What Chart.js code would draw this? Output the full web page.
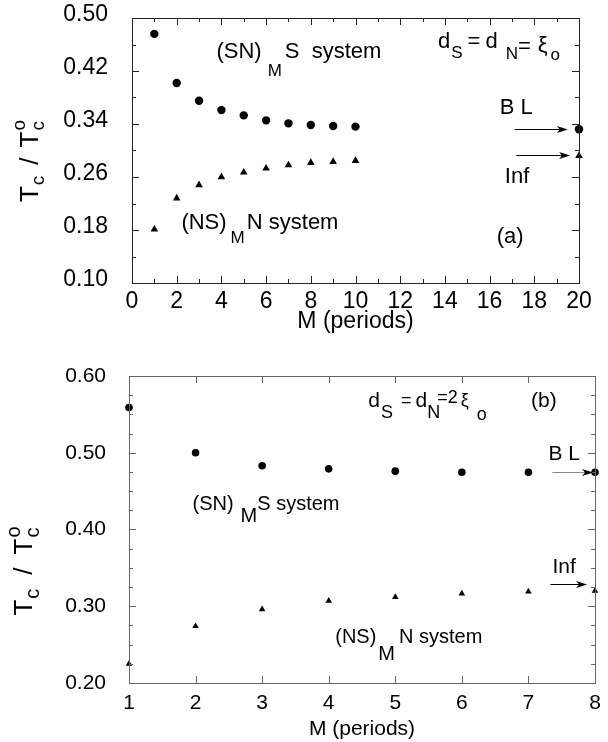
<!DOCTYPE html>
<html lang="en">
<head>
<meta charset="UTF-8">
<title>Tc / Tc0 against M</title>
<style>
    body { margin: 0; background: #fff; }
    canvas { position: absolute; left: 0; }
    #chartA { top: 0; }
    #chartB { top: 345px; }
</style>
</head>
<body>
<canvas id="chartA" width="608" height="340"></canvas>
<canvas id="chartB" width="608" height="397"></canvas>
<script src="https://cdn.jsdelivr.net/npm/chart.js@4.4.1/dist/chart.umd.min.js"></script>
<script>
// panel (a): dS = dN = xi0
const periodsA = [1, 2, 3, 4, 5, 6, 7, 8, 9, 10, 20];
const snsA = [0.476, 0.402, 0.375, 0.361, 0.353, 0.3455, 0.341, 0.3386, 0.337, 0.336, 0.332];   // (SN)M S
const nsnA = [0.181, 0.228, 0.248, 0.260, 0.267, 0.273, 0.278, 0.2815, 0.283, 0.2846, 0.292]; // (NS)M N
const xTicksA = [0, 2, 4, 6, 8, 10, 12, 14, 16, 18, 20];
const yTicksA = [0.10, 0.18, 0.26, 0.34, 0.42, 0.50];

// panel (b): dS = dN = 2 xi0
const periodsB = [1, 2, 3, 4, 5, 6, 7, 8];
const snsB = [0.559, 0.500, 0.483, 0.479, 0.476, 0.4745, 0.4745, 0.4745];
const nsnB = [0.225, 0.274, 0.296, 0.307, 0.312, 0.3165, 0.319, 0.320];
const xTicksB = [1, 2, 3, 4, 5, 6, 7, 8];
const yTicksB = [0.20, 0.30, 0.40, 0.50, 0.60];

const FONT = '"Liberation Sans", Arial, Helvetica, sans-serif';
const INK = '#000';

// draw a run of text pieces: [text, size, dy, gapBefore, advance]
function drawParts(ctx, x, y, parts) {
    let cx = x;
    parts.forEach(p => {
        ctx.font = p[1] + 'px ' + FONT;
        cx += (p[3] || 0);
        ctx.fillText(p[0], cx, y + (p[2] || 0));
        if (p[4] !== false) cx += ctx.measureText(p[0]).width;
    });
}

function partsWidth(ctx, parts) {
    let w = 0;
    parts.forEach(p => {
        ctx.font = p[1] + 'px ' + FONT;
        w += (p[3] || 0);
        if (p[4] !== false) w += ctx.measureText(p[0]).width;
    });
    return w;
}

// frame, inward ticks, notes, arrows and axis titles
const paperPlugin = {
    id: 'paper',
    afterDraw(chart, args, opt) {
        const ctx = chart.ctx;
        const a = chart.chartArea;
        const xs = chart.scales.x, ys = chart.scales.y;
        ctx.save();
        ctx.strokeStyle = opt.frameColor;
        ctx.lineWidth = 1;
        ctx.strokeRect(Math.round(a.left) + 0.5, Math.round(a.top) + 0.5,
            Math.round(a.right - a.left), Math.round(a.bottom - a.top));

        ctx.beginPath();
        const nx = Math.round((xs.max - xs.min) / opt.minorX);
        for (let i = 0; i <= nx; i++) {
            const v = xs.min + i * opt.minorX;
            const major = xs.ticks.some(t => Math.abs(t.value - v) < 1e-6);
            const len = major ? 7 : 4;
            const px = Math.round(xs.getPixelForValue(v)) + 0.5;
            ctx.moveTo(px, a.bottom); ctx.lineTo(px, a.bottom - len);
            ctx.moveTo(px, a.top); ctx.lineTo(px, a.top + len);
        }
        const ny = Math.round((ys.max - ys.min) / opt.minorY);
        for (let i = 0; i <= ny; i++) {
            const v = ys.min + i * opt.minorY;
            const major = ys.ticks.some(t => Math.abs(t.value - v) < 1e-6);
            const len = major ? 7 : 4;
            const py = Math.round(ys.getPixelForValue(v)) + 0.5;
            ctx.moveTo(a.left, py); ctx.lineTo(a.left + len, py);
            ctx.moveTo(a.right, py); ctx.lineTo(a.right - len, py);
        }
        ctx.stroke();

        ctx.fillStyle = INK;
        ctx.textBaseline = 'middle';
        ctx.textAlign = 'left';
        opt.texts.forEach(t => {
            drawParts(ctx, xs.getPixelForValue(t.x), ys.getPixelForValue(t.y), t.parts);
        });

        opt.arrows.forEach(ar => {
            const x1 = xs.getPixelForValue(ar.x1), x2 = xs.getPixelForValue(ar.x2);
            const y = Math.round(ys.getPixelForValue(ar.y)) + 0.5;
            ctx.strokeStyle = ar.color || INK;
            ctx.fillStyle = INK;
            ctx.lineWidth = 1;
            ctx.beginPath();
            ctx.moveTo(x1, y); ctx.lineTo(x2 - 6, y);
            ctx.stroke();
            ctx.beginPath();
            ctx.moveTo(x2, y);
            ctx.lineTo(x2 - 11, y - 3.5);
            ctx.lineTo(x2 - 8, y);
            ctx.lineTo(x2 - 11, y + 3.5);
            ctx.closePath();
            ctx.fill();
        });

        // x title
        ctx.fillStyle = INK;
        ctx.textAlign = 'center';
        ctx.font = opt.xTitle.size + 'px ' + FONT;
        ctx.fillText(opt.xTitle.text, (a.left + a.right) / 2, opt.xTitle.y);

        // y title, rotated
        ctx.textAlign = 'left';
        const w = partsWidth(ctx, opt.yTitle.parts);
        ctx.translate(opt.yTitle.x, opt.yTitle.y);
        ctx.rotate(-Math.PI / 2);
        drawParts(ctx, -w / 2, 0, opt.yTitle.parts);
        ctx.restore();
    }
};

function makeChart(id, cfg) {
    const toPts = (xs, ys) => xs.map((x, i) => ({ x: x, y: ys[i] }));
    return new Chart(document.getElementById(id), {
        type: 'scatter',
        data: {
            datasets: [
                {
                    label: '(SN)M S system',
                    data: toPts(cfg.periods, cfg.sns),
                    pointStyle: 'circle',
                    pointRadius: cfg.circleR,
                    backgroundColor: '#000',
                    borderColor: '#000',
                    borderWidth: 0,
                    clip: false
                },
                {
                    label: '(NS)M N system',
                    data: toPts(cfg.periods, cfg.nsn),
                    pointStyle: 'triangle',
                    pointRadius: cfg.triR,
                    backgroundColor: '#000',
                    borderColor: '#000',
                    borderWidth: 0,
                    clip: false
                }
            ]
        },
        options: {
            responsive: false,
            animation: false,
            events: [],
            layout: { padding: cfg.padding },
            plugins: {
                legend: { display: false },
                tooltip: { enabled: false },
                paper: cfg.paper
            },
            scales: {
                x: {
                    type: 'linear',
                    min: cfg.xMin,
                    max: cfg.xMax,
                    afterBuildTicks: s => { s.ticks = cfg.xTicks.map(v => ({ value: v })); },
                    afterFit: s => { s.height = cfg.xHeight; s.paddingLeft = 0; s.paddingRight = 0; },
                    grid: { display: false, drawTicks: false },
                    border: { display: false },
                    ticks: {
                        padding: cfg.xPad,
                        color: INK,
                        font: { family: FONT, size: cfg.tickSize },
                        maxRotation: 0,
                        autoSkip: false,
                        callback: v => String(v)
                    }
                },
                y: {
                    type: 'linear',
                    min: cfg.yMin,
                    max: cfg.yMax,
                    afterBuildTicks: s => { s.ticks = cfg.yTicks.map(v => ({ value: v })); },
                    afterFit: s => { s.width = cfg.yWidth; s.paddingTop = 0; s.paddingBottom = 0; },
                    grid: { display: false, drawTicks: false },
                    border: { display: false },
                    ticks: {
                        padding: cfg.yPad,
                        labelOffset: cfg.yLabelOffset,
                        color: INK,
                        font: { family: FONT, size: cfg.tickSize },
                        autoSkip: false,
                        callback: v => v.toFixed(2)
                    }
                }
            }
        },
        plugins: [paperPlugin]
    });
}

makeChart('chartA', {
    periods: periodsA, sns: snsA, nsn: nsnA,
    xTicks: xTicksA, yTicks: yTicksA,
    xMin: 0, xMax: 20, yMin: 0.10, yMax: 0.50,
    circleR: 4.2, triR: 4.4,
    padding: { left: 0, top: 18, right: 29, bottom: 0 },
    yWidth: 132, xHeight: 57, xPad: 5, yPad: 24, yLabelOffset: -3, tickSize: 23,
    paper: {
        frameColor: '#222',
        minorX: 1, minorY: 0.04,
        texts: [
            { x: 3.78, y: 0.4486, parts: [['(SN)', 22, 0], ['M', 17, 19, 6], ['S  system', 22, 0, 3]] },
            { x: 2.21, y: 0.191, parts: [['(NS)', 22, 0], ['M', 17, 16, 4], ['N system', 22, 0, 2]] },
            { x: 13.69, y: 0.4646, parts: [['d', 22, 0], ['S', 17, 12, 1], ['=', 22, 0, 5], ['d', 22, 0, 5],
                ['N', 17, 13, 8], ['=', 22, 5, 0], ['\u03be', 22, 4, 7], ['o', 17, 14, 3]] },
            { x: 16.45, y: 0.3638, parts: [['B L', 22, 0]] },
            { x: 16.68, y: 0.2604, parts: [['Inf', 22, 0]] },
            { x: 16.32, y: 0.1696, parts: [['(a)', 22, 0]] }
        ],
        arrows: [
            { x1: 17.12, x2: 19.5, y: 0.3325 },
            { x1: 17.2, x2: 19.6, y: 0.2936 }
        ],
        xTitle: { text: 'M (periods)', size: 23, y: 322 },
        yTitle: {
            x: 31, y: 161,
            parts: [['T', 26, 0], ['c', 19, 8, 1], ['/', 26, 0, 11], ['T', 26, 0, 10], ['c', 19, 8, 1, false], ['o', 19, -11, 0]]
        }
    }
});

makeChart('chartB', {
    periods: periodsB, sns: snsB, nsn: nsnB,
    xTicks: xTicksB, yTicks: yTicksB,
    xMin: 1, xMax: 8, yMin: 0.20, yMax: 0.60,
    circleR: 3.8, triR: 3.8,
    padding: { left: 0, top: 31, right: 13, bottom: 0 },
    yWidth: 129, xHeight: 59, xPad: 8, yPad: 23, yLabelOffset: 0, tickSize: 21,
    paper: {
        frameColor: '#666',
        minorX: 1, minorY: 0.025,
        texts: [
            { x: 4.594, y: 0.567, parts: [['d', 21, 0], ['S', 18, 12, 1], ['=', 18, 0, 8], ['d', 21, 0, 4],
                ['N', 18, 12, 0], ['=2', 18, -3, -3], ['\u03be', 18, 0, 3], ['o', 18, 14, 8]] },
            { x: 7.04, y: 0.567, parts: [['(b)', 21, 0]] },
            { x: 7.30, y: 0.4975, parts: [['B L', 21, 0]] },
            { x: 7.36, y: 0.3514, parts: [['Inf', 21, 0]] },
            { x: 1.954, y: 0.432, parts: [['(SN)', 20, 0], ['M', 20, 12, 7], ['S system', 20, 0, 0]] },
            { x: 4.098, y: 0.2598, parts: [['(NS)', 20, 0], ['M', 20, 17, 2], ['N system', 20, 0, 4]] }
        ],
        arrows: [
            { x1: 7.36, x2: 7.97, y: 0.4745, color: '#888' },
            { x1: 7.33, x2: 7.88, y: 0.3295 }
        ],
        xTitle: { text: 'M (periods)', size: 21, y: 384 },
        yTitle: {
            x: 25, y: 226,
            parts: [['T', 26, 0], ['c', 20, 8, 1], ['/', 26, 0, 14], ['T', 26, 0, 13], ['c', 20, 8, 1, false], ['o', 20, -11, 0]]
        }
    }
});
</script>
</body>
</html>
